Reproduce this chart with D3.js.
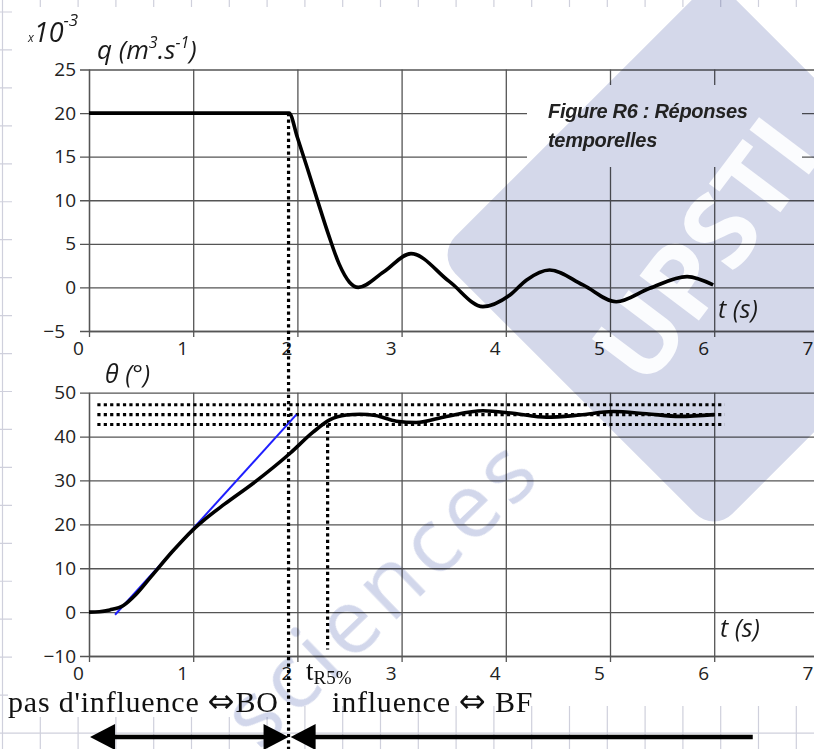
<!DOCTYPE html>
<meta charset="utf-8">
<script src="https://d3js.org/d3.v7.min.js"></script>
<style>
  body { margin: 0; background: #fff; }
  .axis path, .axis line { stroke: #555; stroke-width: 1.3; }
  .axis text { font-family: "Open Sans", sans-serif; font-size: 19px; fill: #222; }
  .lbl { font-family: "Open Sans", sans-serif; font-style: italic; fill: #1a1a1a; }
  .serif { font-family: "Liberation Serif", "DejaVu Serif", serif; fill: #111; }
</style>
<div id="chart"></div>
<script>

  // tick values
  var tTicks = [0, 1, 2, 3, 4, 5, 6, 7];
  var qTicks = [-5, 0, 5, 10, 15, 20, 25];
  var thTicks = [-10, 0, 10, 20, 30, 40, 50];

  // flow rate q (x10^-3 m3/s) against time
  var qTime  = [0, 1.92, 2.0, 2.1, 2.2, 2.3, 2.4, 2.5, 2.585, 2.83, 3.09, 3.46, 3.78, 4.04, 4.20, 4.42, 4.74, 5.06, 5.38, 5.74, 5.99];
  var qValue = [20, 20, 17.2, 13.5, 9.7, 6.0, 2.7, 0.6, 0, 1.8, 3.88, 0.66, -2.2, -0.87, 0.86, 2.0, 0.28, -1.64, -0.1, 1.24, 0.28];

  // angle theta (deg) against time
  var thTime  = [0, 0.1, 0.2, 0.33, 0.45, 0.6, 0.8, 0.9, 1.0, 1.1, 1.3, 1.6, 1.93, 2.15, 2.31, 2.47, 2.6, 2.75, 2.95, 3.14, 3.43, 3.78, 4.07, 4.39, 4.71, 5.03, 5.35, 5.67, 6.0];
  var thValue = [0, 0.1, 0.5, 1.5, 4.0, 8.2, 13.8, 16.4, 18.8, 20.9, 24.6, 29.8, 36.2, 41.0, 43.8, 44.9, 45.1, 44.8, 43.5, 43.2, 44.6, 45.9, 45.3, 44.4, 44.9, 45.7, 45.2, 44.6, 45.0];

  // tangent at the start (blue)
  var tanTime  = [0.25, 1.99];
  var tanValue = [-0.6, 45];

  // +/- 5% band around the final value
  var bandValues = [47.25, 45, 42.75];
  var bandTime = [0.08, 6.1];

  // markers
  var tBO = 1.915;      // end of open loop
  var tR5 = 2.29;       // 5% response time
  var arrowLeft = [0.01, 1.915];
  var arrowRight = [1.935, 6.37];

  var W = 814, H = 749;
  var svg = d3.select("#chart").append("svg").attr("width", W).attr("height", H);

  // graph paper behind the figure
  var paper = svg.append("g").attr("stroke", "#cfd0dc").attr("stroke-width", 1.2);
  d3.range(0, 22).forEach(function(k) {
    paper.append("line").attr("x1", 2.5 + 37.8 * k).attr("x2", 2.5 + 37.8 * k).attr("y1", 0).attr("y2", H);
  });
  d3.range(0, 20).forEach(function(k) {
    paper.append("line").attr("x1", 0).attr("x2", W).attr("y1", 12 + 37.95 * k).attr("y2", 12 + 37.95 * k);
  });
  svg.append("rect").attr("x", 12).attr("y", 7).attr("width", W - 12).attr("height", 699).attr("fill", "#fff");
  svg.append("rect").attr("x", 8).attr("y", 690).attr("width", 278).attr("height", 27).attr("fill", "#fff");

  // scales
  var x = d3.scaleLinear().domain([0, 7]).range([89, 818.4]);
  var yq = d3.scaleLinear().domain([-5, 25]).range([331, 69.5]);
  var yt = d3.scaleLinear().domain([-10, 50]).range([656, 392.7]);

  function grid(y, ticks) {
    var top = y.range()[1], bottom = y.range()[0];
    var gx = svg.append("g").attr("class", "axis")
      .attr("transform", "translate(0," + bottom + ")")
      .call(d3.axisBottom(x).tickValues(tTicks).tickFormat(d3.format("d"))
        .tickSize(-(bottom - top)).tickSizeOuter(0).tickPadding(10.5));
    gx.selectAll(".tick line").attr("y1", 6);
    gx.selectAll(".tick text").attr("x", -11);
    var gy = svg.append("g").attr("class", "axis")
      .attr("transform", "translate(" + x(0) + ",0)")
      .call(d3.axisLeft(y).tickValues(ticks).tickFormat(d3.format("d"))
        .tickSize(-(x(7) - x(0))).tickSizeOuter(0).tickPadding(13));
    gy.selectAll(".tick line").attr("x1", -9);
    return gy;
  }
  var gq = grid(yq, qTicks);
  gq.selectAll(".tick text").filter(function(d) { return d === -5; }).attr("dx", -11);
  grid(yt, thTicks);

  // white box of the figure title
  svg.append("rect").attr("x", 527).attr("y", 85).attr("width", 275).attr("height", 82).attr("fill", "#fff");

  // dotted guides
  var dotted = svg.append("g").attr("stroke", "#000").attr("stroke-width", 3.2)
    .attr("stroke-dasharray", "3.2,3.2").attr("fill", "none");
  bandValues.forEach(function(v) {
    dotted.append("line").attr("x1", x(bandTime[0])).attr("x2", x(bandTime[1]))
      .attr("y1", yt(v)).attr("y2", yt(v));
  });
  dotted.append("line").attr("x1", x(tBO)).attr("x2", x(tBO)).attr("y1", yq(20)).attr("y2", H);
  dotted.append("line").attr("x1", x(tR5)).attr("x2", x(tR5)).attr("y1", yt(42.75)).attr("y2", yt(-8.5));

  // curves
  var lineQ = d3.line().x(function(d, i) { return x(qTime[i]); }).y(function(d) { return yq(d); }).curve(d3.curveMonotoneX);
  svg.append("path").attr("d", lineQ(qValue)).attr("fill", "none").attr("stroke", "#000")
    .attr("stroke-width", 3.6).attr("stroke-linejoin", "round");

  svg.append("line").attr("x1", x(tanTime[0])).attr("y1", yt(tanValue[0]))
    .attr("x2", x(tanTime[1])).attr("y2", yt(tanValue[1]))
    .attr("stroke", "#1f1fff").attr("stroke-width", 2);

  var lineT = d3.line().x(function(d, i) { return x(thTime[i]); }).y(function(d) { return yt(d); }).curve(d3.curveMonotoneX);
  svg.append("path").attr("d", lineT(thValue)).attr("fill", "none").attr("stroke", "#000")
    .attr("stroke-width", 3.6).attr("stroke-linejoin", "round");

  // watermark
  var wm = svg.append("g").style("mix-blend-mode", "multiply").style("isolation", "isolate");
  wm.append("rect").attr("x", -196).attr("y", -196).attr("width", 392).attr("height", 392).attr("rx", 26)
    .attr("fill", "#d4d8ea").attr("transform", "translate(714,255) rotate(45)");
  wm.append("text").attr("transform", "translate(705,250) rotate(-53)")
    .attr("text-anchor", "middle").attr("dy", "0.36em")
    .style("font-family", "Open Sans, sans-serif").style("font-weight", "bold").style("font-size", "104px")
    .attr("fill", "#fbfcfe").text("UPSTI");
  wm.append("text").attr("transform", "translate(384,594) rotate(-44)")
    .attr("text-anchor", "middle").attr("dy", "0.3em")
    .style("font-family", "Open Sans, sans-serif").style("font-size", "90px").style("letter-spacing", "6px")
    .attr("fill", "#d2d7eb").text("sciences");

  // axis titles
  var mult = svg.append("text").attr("class", "lbl").attr("x", 28).attr("y", 42);
  mult.append("tspan").style("font-size", "12px").text("x");
  mult.append("tspan").style("font-size", "27px").text("10");
  mult.append("tspan").style("font-size", "17px").attr("dy", -16).text("-3");

  var qt = svg.append("text").attr("class", "lbl").attr("x", 97).attr("y", 59).style("font-size", "26px");
  qt.append("tspan").text("q (m");
  qt.append("tspan").style("font-size", "16px").attr("dy", -11).text("3");
  qt.append("tspan").attr("dy", 11).text(".s");
  qt.append("tspan").style("font-size", "16px").attr("dy", -11).text("-1");
  qt.append("tspan").attr("dy", 11).text(")");

  svg.append("text").attr("class", "lbl").attr("x", 105).attr("y", 383).style("font-size", "25px").text("θ (°)");
  svg.append("text").attr("class", "lbl").attr("x", 718).attr("y", 318).style("font-size", "25px").text("t (s)");
  svg.append("text").attr("class", "lbl").attr("x", 720).attr("y", 637).style("font-size", "25px").text("t (s)");

  var fig = svg.append("g").style("font-family", "Liberation Sans, Arial, sans-serif")
    .style("font-weight", "bold").style("font-style", "italic").style("font-size", "20px")
    .style("letter-spacing", "-0.3px").attr("fill", "#222");
  fig.append("text").attr("x", 548).attr("y", 118).text("Figure R6 : Réponses");
  fig.append("text").attr("x", 548).attr("y", 147).text("temporelles");

  var tr = svg.append("text").attr("class", "serif").attr("x", 306).attr("y", 680).style("font-size", "27px");
  tr.append("tspan").text("t");
  tr.append("tspan").style("font-size", "19px").attr("dy", 4).text("R5%");

  var bo = svg.append("text").attr("class", "serif").attr("x", 8).attr("y", 712)
    .style("font-size", "30px").style("letter-spacing", "0.8px");
  bo.append("tspan").text("pas d'influence ");
  bo.append("tspan").style("font-family", "DejaVu Sans").style("font-size", "32px").text("⇔");
  bo.append("tspan").text("BO");
  var bf = svg.append("text").attr("class", "serif").attr("x", 332).attr("y", 712)
    .style("font-size", "30px").style("letter-spacing", "0.8px");
  bf.append("tspan").text("influence ");
  bf.append("tspan").style("font-family", "DejaVu Sans").style("font-size", "32px").text("⇔");
  bf.append("tspan").text(" BF");

  // arrows along the bottom
  var ay = 737;
  function head(xt, dir) {
    svg.append("path").attr("d", "M" + xt + "," + ay + "L" + (xt + dir * 25) + "," + (ay - 13) + "L" + (xt + dir * 25) + "," + (ay + 13) + "Z")
      .attr("fill", "#000");
  }
  svg.append("line").attr("x1", x(arrowLeft[0]) + 10).attr("x2", x(arrowLeft[1]) - 10).attr("y1", ay).attr("y2", ay)
    .attr("stroke", "#000").attr("stroke-width", 4.5);
  head(x(arrowLeft[0]), 1);
  head(x(arrowLeft[1]), -1);
  svg.append("line").attr("x1", x(arrowRight[0]) + 10).attr("x2", x(arrowRight[1])).attr("y1", ay).attr("y2", ay)
    .attr("stroke", "#000").attr("stroke-width", 4.5);
  head(x(arrowRight[0]), 1);

</script>
